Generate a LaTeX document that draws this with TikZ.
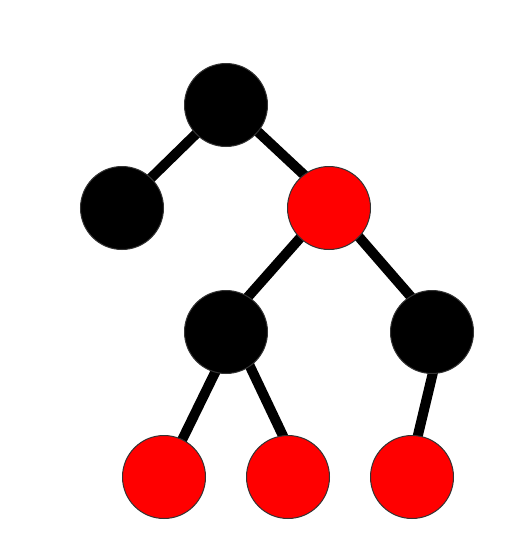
\documentclass[tikz,border=0pt]{standalone}
\usetikzlibrary{backgrounds}
\begin{document}
\begin{tikzpicture}[x=1pt,y=-1pt,
  rbnode/.style={circle,draw=black!80,line width=1pt,minimum size=83pt,inner sep=0pt,outer sep=0pt},
  blk/.style={rbnode,fill=black},
  rd/.style={rbnode,fill=red},
  edge/.style={line width=10pt,black,shorten <=-8pt,shorten >=-8pt}]
\useasboundingbox (0,0) rectangle (520,550);
\node[blk] (a) at (226,105) {};
\node[blk] (b) at (122,208) {};
\node[rd]  (c) at (329,208) {};
\node[blk] (d) at (226,332) {};
\node[blk] (e) at (432,332) {};
\node[rd]  (f) at (164,477) {};
\node[rd]  (g) at (288,477) {};
\node[rd]  (h) at (412,477) {};
\begin{pgfonlayer}{background}
\draw[edge] (a.-136) -- (b.46);
\draw[edge] (a.-40) -- (c.127);
\draw[edge] (c.-134) -- (d.58);
\draw[edge] (c.-44) -- (e.121);
\draw[edge] (d.-105) -- (f.64);
\draw[edge] (d.-55) -- (g.97);
\draw[edge] (e.-89) -- (h.82);
\end{pgfonlayer}
\end{tikzpicture}
\end{document}
